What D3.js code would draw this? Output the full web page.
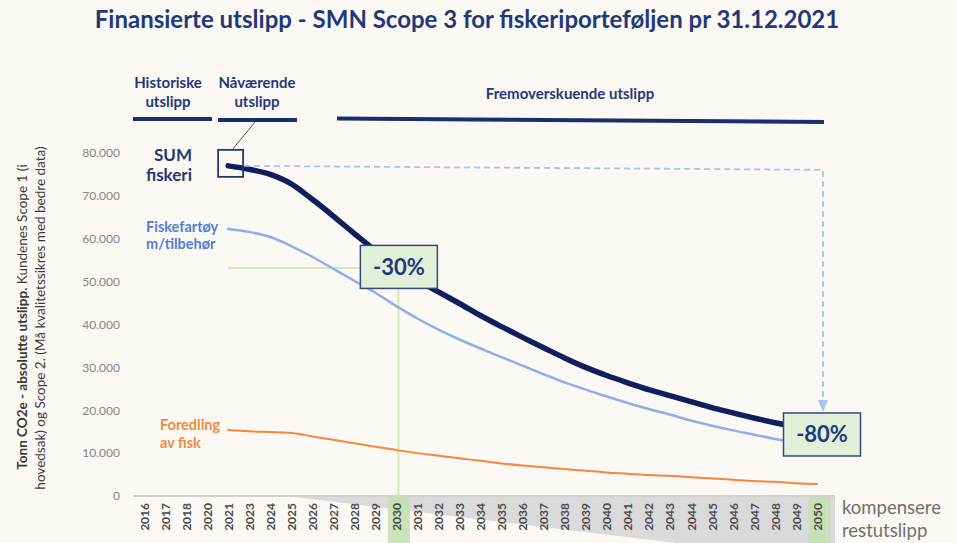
<!DOCTYPE html>
<html>
<head>
<meta charset="utf-8">
<script src="https://cdn.jsdelivr.net/npm/d3@7"></script>
<style>
	body { margin: 0; background: #fcf8f4; }
	svg { display: block; font-family: Lato, "Open Sans", sans-serif; }
</style>
</head>
<body>
<div id="chart"></div>
<script>
// year labels as they appear on the axis (2019 and 2022 are not in the source)
const years = ['2016', '2017', '2018', '2020', '2021', '2023', '2024', '2025', '2026', '2027',
	'2028', '2029', '2030', '2031', '2032', '2033', '2034', '2035', '2036', '2037', '2038',
	'2039', '2040', '2041', '2042', '2043', '2044', '2045', '2046', '2047', '2048', '2049', '2050'];

// tonn CO2e, from 2021
const sumFiskeri = [null, null, null, null, 77000, 76200, 75000, 72800, 69200, 65300, 61200,
	57200, 53200, 50300, 47600, 44900, 42100, 39500, 37000, 34600, 32200, 30000, 28100, 26400,
	24800, 23400, 22000, 20600, 19400, 18200, 17100, 16200, 15400];
const fiskefartoy = [null, null, null, null, 62300, 61600, 60400, 58300, 55800, 53000, 50200,
	47400, 44300, 41400, 38800, 36500, 34400, 32400, 30400, 28400, 26500, 24800, 23200, 21700,
	20300, 19000, 17600, 16400, 15300, 14300, 13300, 12500, 12000];
const foredling = [null, null, null, null, 15400, 15100, 14900, 14700, 13900, 13100, 12300,
	11500, 10700, 10000, 9400, 8800, 8200, 7600, 7100, 6700, 6300, 5900, 5500, 5200, 4900, 4700,
	4400, 4100, 3800, 3500, 3300, 3000, 2800];

const yTicks = [0, 10000, 20000, 30000, 40000, 50000, 60000, 70000, 80000];
const highlightYears = ['2030', '2050'];
const reductions = [{ year: '2030', text: '-30%' }, { year: '2050', text: '-80%' }];

let width = 957;
let height = 543;
let navy = '#0d1f5c';
let headNavy = '#1f3a7a';

let svg = d3.select('#chart')
	.append('svg')
	.attr('width', width)
	.attr('height', height);

svg.append('rect')
	.attr('width', width)
	.attr('height', height)
	.attr('fill', '#fcf8f4');

let x = d3.scalePoint().domain(years).range([144, 817]);
let y = d3.scaleLinear().domain([0, 80000]).range([496, 153]);
let step = x.step();
let i2021 = years.indexOf('2021');
let i2030 = years.indexOf('2030');
let i2050 = years.indexOf('2050');

// title
svg.append('text')
	.attr('x', 467)
	.attr('y', 28)
	.attr('text-anchor', 'middle')
	.attr('fill', headNavy)
	.attr('font-size', 24)
	.attr('font-weight', 700)
	.text('Finansierte utslipp - SMN Scope 3 for fiskeriporteføljen pr 31.12.2021');

// grey wedge under the axis
svg.append('path')
	.attr('d', d3.line()([
		[x('2025') - 6, y(0)],
		[x('2050') + 18, y(0)],
		[x('2050') + 18, y(0) + 66]
	]))
	.attr('fill', '#d5d5d5')
	.attr('opacity', 0.85);

// green highlight bands
svg.selectAll('.band')
	.data(highlightYears)
	.enter()
	.append('rect')
	.attr('class', 'band')
	.attr('x', d => x(d) - step / 2 + 2)
	.attr('y', y(0))
	.attr('width', step + 1)
	.attr('height', height - y(0))
	.attr('fill', '#c5e0b4')
	.attr('opacity', 0.9);

// base line
svg.append('line')
	.attr('x1', 133)
	.attr('x2', x('2050') + 18)
	.attr('y1', y(0))
	.attr('y2', y(0))
	.attr('stroke', '#d2d2d2')
	.attr('stroke-width', 2);

let fmt = d3.formatLocale({ decimal: ',', thousands: '.', grouping: [3], currency: ['', ' kr'] }).format(',.0f');

let yAxis = svg.append('g')
	.attr('transform', 'translate(120,0)')
	.call(d3.axisLeft(y).tickValues(yTicks).tickSize(0).tickPadding(0).tickFormat(fmt));
yAxis.select('.domain').remove();
yAxis.selectAll('text')
	.attr('fill', '#858585')
	.attr('font-size', 12)
	.attr('font-family', 'Lato, sans-serif');

let xAxis = svg.append('g')
	.attr('transform', 'translate(0,' + y(0) + ')')
	.call(d3.axisBottom(x).tickSize(0));
xAxis.select('.domain').remove();
xAxis.selectAll('text')
	.attr('transform', 'rotate(-90)')
	.attr('text-anchor', 'end')
	.attr('x', -7)
	.attr('y', 0)
	.attr('dy', '0.35em')
	.attr('fill', '#4a4a4a')
	.attr('font-size', 12)
	.attr('font-weight', 700)
	.attr('font-family', 'Lato, sans-serif');

// y title
let yTitle = svg.append('g')
	.attr('fill', '#3a3a3a')
	.attr('font-size', 13.5);
let t1 = yTitle.append('text')
	.attr('transform', 'translate(27,317) rotate(-90)')
	.attr('text-anchor', 'middle');
t1.append('tspan').attr('font-weight', 700).text('Tonn CO2e - absolutte utslipp.');
t1.append('tspan').text(' Kundenes Scope 1 (i');
yTitle.append('text')
	.attr('transform', 'translate(45,318) rotate(-90)')
	.attr('text-anchor', 'middle')
	.text('hovedsak) og Scope 2. (Må kvalitetssikres med bedre data)');

// period headers
let headers = [
	{ lines: ['Historiske', 'utslipp'], cx: 168, x1: 133, x2: 212, y1: 119, y2: 119 },
	{ lines: ['Nåværende', 'utslipp'], cx: 257, x1: 218, x2: 297, y1: 120, y2: 120 },
	{ lines: ['Fremoverskuende utslipp'], cx: 570, x1: 337, x2: 824, y1: 118.5, y2: 122 }
];
headers.forEach(h => {
	let t = svg.append('text')
		.attr('text-anchor', 'middle')
		.attr('fill', headNavy)
		.attr('font-size', 15)
		.attr('font-weight', 700);
	h.lines.forEach((l, i) => {
		t.append('tspan')
			.attr('x', h.cx)
			.attr('y', h.lines.length > 1 ? 88 + i * 19 : 99)
			.text(l);
	});
	svg.append('line')
		.attr('x1', h.x1).attr('x2', h.x2)
		.attr('y1', h.y1).attr('y2', h.y2)
		.attr('stroke', '#14306e')
		.attr('stroke-width', 4);
});

// green guide lines for 2030
let y2030 = y(sumFiskeri[i2030]);
svg.append('line')
	.attr('x1', x('2030') + 2).attr('x2', x('2030') + 2)
	.attr('y1', y2030).attr('y2', y(0))
	.attr('stroke', '#cdebb5')
	.attr('stroke-width', 2);
svg.append('line')
	.attr('x1', x('2021')).attr('x2', x('2030'))
	.attr('y1', y2030).attr('y2', y2030)
	.attr('stroke', '#cdebb5')
	.attr('stroke-width', 2);

// series lines
let line = d3.line()
	.defined(d => d != null)
	.x((d, i) => x(years[i]))
	.y(d => y(d))
	.curve(d3.curveMonotoneX);

let series = [
	{ values: foredling, color: '#f3873a', w: 2 },
	{ values: fiskefartoy, color: '#8cb0ec', w: 2.5 },
	{ values: sumFiskeri, color: navy, w: 5.5 }
];
svg.selectAll('.series')
	.data(series)
	.enter()
	.append('path')
	.attr('class', 'series')
	.attr('d', d => line(d.values))
	.attr('fill', 'none')
	.attr('stroke', d => d.color)
	.attr('stroke-width', d => d.w)
	.attr('stroke-linecap', 'round');

// dashed target arrow
let y2021 = y(sumFiskeri[i2021]);
let y2050 = y(sumFiskeri[i2050]);
let ax = x('2050') + 6;
svg.append('path')
	.attr('d', d3.line()([[x('2021') + 16, y2021], [ax, y2021 + 4], [ax, y2050 - 28]]))
	.attr('fill', 'none')
	.attr('stroke', '#a9c4f0')
	.attr('stroke-width', 1.8)
	.attr('stroke-dasharray', '6,4');
svg.append('path')
	.attr('d', 'M' + (ax - 5) + ',' + (y2050 - 30) + 'L' + (ax + 5) + ',' + (y2050 - 30) + 'L' + ax + ',' + (y2050 - 18) + 'Z')
	.attr('fill', '#a9c4f0');

// SUM box at today's value
svg.append('rect')
	.attr('x', x('2021') - 10)
	.attr('y', y2021 - 16)
	.attr('width', 25)
	.attr('height', 27)
	.attr('fill', 'none')
	.attr('stroke', '#1f3a6e')
	.attr('stroke-width', 1.8);
svg.append('line')
	.attr('x1', x('2021') + 4).attr('y1', y2021 - 16)
	.attr('x2', 255).attr('y2', 122)
	.attr('stroke', '#3a5a9a')
	.attr('stroke-width', 1);

// reduction boxes
let boxes = svg.selectAll('.box')
	.data(reductions)
	.enter()
	.append('g')
	.attr('class', 'box')
	.attr('transform', d => {
		let v = sumFiskeri[years.indexOf(d.year)];
		let dy = d.year === '2030' ? -1 : 4.5;
		let dx = d.year === '2030' ? 2.5 : 5;
		return 'translate(' + (x(d.year) + dx) + ',' + (y(v) + dy) + ')';
	});
boxes.append('rect')
	.attr('x', -38.5)
	.attr('y', -21.5)
	.attr('width', 77)
	.attr('height', 43)
	.attr('fill', '#e2efd9')
	.attr('stroke', '#2f4b7c')
	.attr('stroke-width', 1.5);
boxes.append('text')
	.attr('text-anchor', 'middle')
	.attr('dy', '0.36em')
	.attr('fill', headNavy)
	.attr('font-size', 22)
	.attr('font-weight', 700)
	.text(d => d.text);

// series labels
let labels = [
	{ lines: ['SUM', 'fiskeri'], x: 192, y: 161, anchor: 'end', color: headNavy, size: 17, gap: 20 },
	{ lines: ['Fiskefartøy', 'm/tilbehør'], x: 146, y: 232, anchor: 'start', color: '#4f7fd6', size: 14.5, gap: 17 },
	{ lines: ['Foredling', 'av fisk'], x: 160, y: 430, anchor: 'start', color: '#f08a3c', size: 14.5, gap: 18 }
];
labels.forEach(l => {
	let t = svg.append('text')
		.attr('text-anchor', l.anchor)
		.attr('fill', l.color)
		.attr('font-size', l.size)
		.attr('font-weight', 700);
	l.lines.forEach((s, i) => {
		t.append('tspan').attr('x', l.x).attr('y', l.y + i * l.gap).text(s);
	});
});

// note at the right
['kompensere', 'restutslipp'].forEach((s, i) => {
	svg.append('text')
		.attr('x', 842)
		.attr('y', 514 + i * 23)
		.attr('fill', '#6f6f6f')
		.attr('font-size', 18.5)
		.text(s);
});
</script>
</body>
</html>
